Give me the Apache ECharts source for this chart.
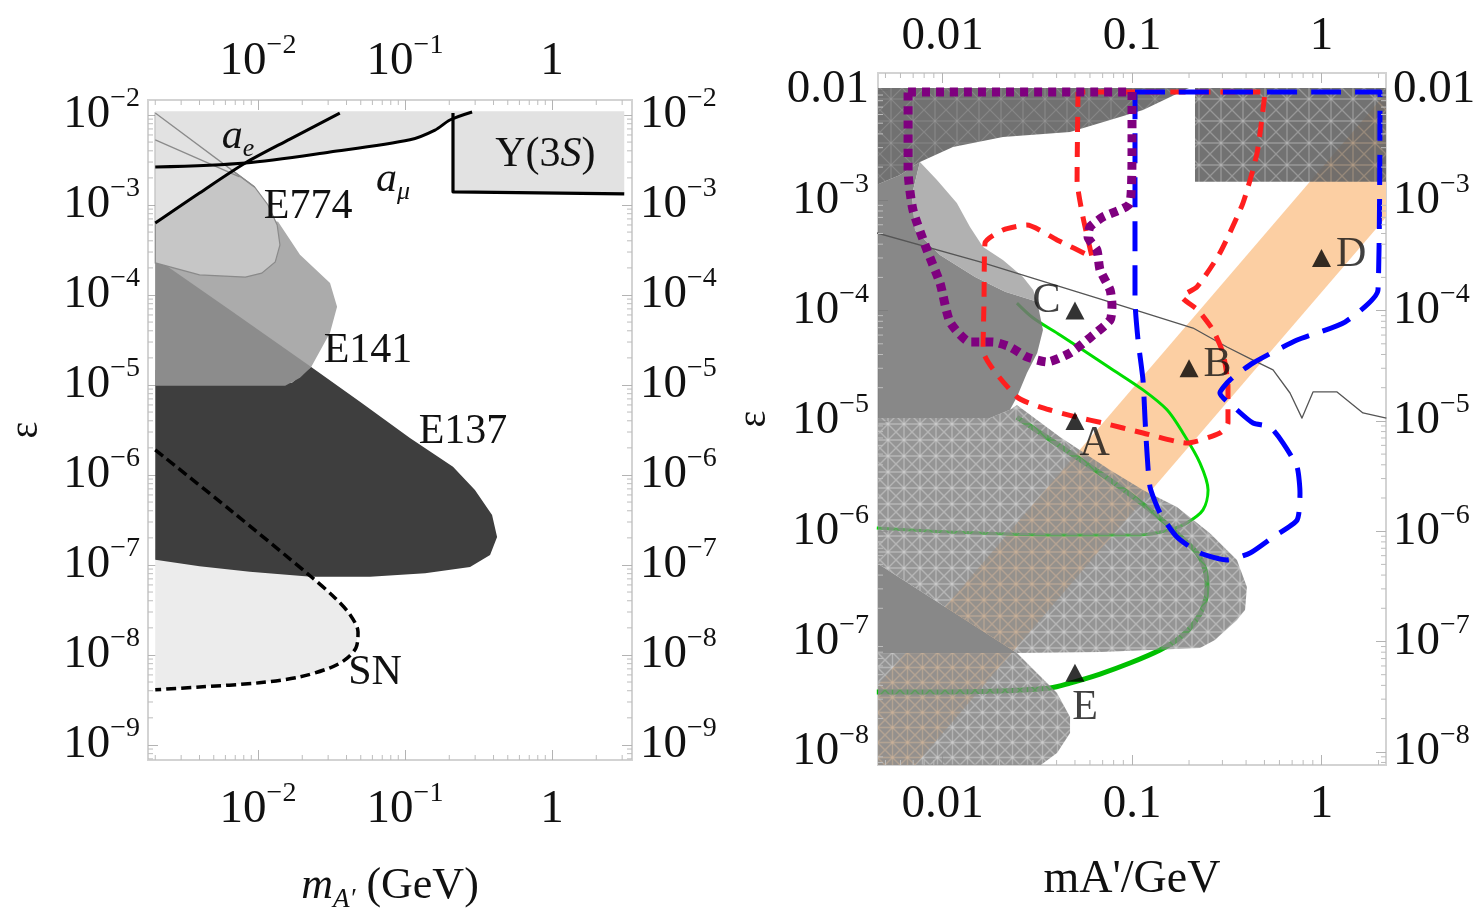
<!DOCTYPE html>
<html><head><meta charset="utf-8">
<script src="https://cdn.jsdelivr.net/npm/echarts@6/dist/echarts.min.js"></script>
<style>html,body{margin:0;padding:0;background:#fff;}#c{width:1482px;height:917px;}</style>
</head><body><div id="c"></div>
<script>
// ===================== DATA (mass in GeV, epsilon) =====================
const leftXRange = [0.001785, 3.5];
const leftYRange = [6.8e-10, 0.01468];
const rightXRange = [0.004566, 2.19];
const rightYRange = [7.59e-9, 0.01426];

// tick labels: [exponent, base, superscript]
const leftXTickLabels = [[-2,'10','−2'],[-1,'10','−1'],[0,'1','']];
const leftYTickLabels = [[-2,'10','−2'],[-3,'10','−3'],[-4,'10','−4'],[-5,'10','−5'],[-6,'10','−6'],[-7,'10','−7'],[-8,'10','−8'],[-9,'10','−9']];
const rightXTickLabels = [[-2,'0.01',''],[-1,'0.1',''],[0,'1','']];
const rightYTickLabels = [[-2,'0.01',''],[-3,'10','−3'],[-4,'10','−4'],[-5,'10','−5'],[-6,'10','−6'],[-7,'10','−7'],[-8,'10','−8']];
// minor tick mantissas and decades
const minorMantissas = [2,3,4,5,6,7,8,9];
const leftXDecades = [-3,-2,-1,0];
const leftYDecades = [-10,-9,-8,-7,-6,-5,-4,-3,-2];
const rightXDecades = [-3,-2,-1,0];
const rightYDecades = [-9,-8,-7,-6,-5,-4,-3,-2];

// ---- left panel regions ----
const leftSN_fill = [[0.002,1.5e-7],[0.023,7.4e-8],[0.0334,4.3e-8],[0.0423,2.8e-8],[0.0479,1.8e-8],[0.0464,1.2e-8],[0.039,8.8e-9],[0.0309,7.2e-9],[0.0193,5.7e-9],[0.0102,4.9e-9],[0.004,4.4e-9],[0.002,4.1e-9]];
const leftE137 = [[0.002,1.47e-5],[0.0193,1.67e-5],[0.023,1.58e-5],[0.0494,6.5e-6],[0.108,2.58e-6],[0.212,1.23e-6],[0.299,6.8e-7],[0.391,3.6e-7],[0.423,2.05e-7],[0.379,1.29e-7],[0.277,9.5e-8],[0.137,8.1e-8],[0.0578,7.4e-8],[0.023,7.4e-8],[0.0088,8.4e-8],[0.004,9.7e-8],[0.002,1.14e-7]];
const leftE141 = [[0.002,1.14e-3],[0.0137,6.5e-4],[0.0193,2.8e-4],[0.0309,1.36e-4],[0.0345,7.4e-5],[0.0309,3.8e-5],[0.023,1.58e-5],[0.017,1.05e-5],[0.002,1e-5]];
const leftMid = [[0.002,2.58e-4],[0.00645,6.8e-5],[0.023,1.58e-5],[0.0193,1.2e-5],[0.0153,9.8e-6],[0.002,9.8e-6]];
const leftE774 = [[0.002,0.0105],[0.0095,1.58e-3],[0.0117,1e-3],[0.0135,6e-4],[0.0141,3.6e-4],[0.0131,2.33e-4],[0.0106,1.75e-4],[0.0082,1.58e-4],[0.004,1.67e-4],[0.002,2.27e-4]];
const leftBand = [[0.002,0.011],[0.212,0.011],[0.212,9.3e-3],[0.2,8.8e-3],[0.16,6.8e-3],[0.108,5.3e-3],[0.0309,3.88e-3],[0.0082,2.93e-3],[0.004,1.36e-3],[0.002,6.3e-4]];
const leftY3S = [[0.212,0.011],[3.1,0.011],[3.1,1.33e-3],[0.212,1.4e-3]];
const leftThin1 = [[0.002,0.0105],[0.0095,1.58e-3]];
const leftThin2 = [[0.002,5.3e-3],[0.0075,2.05e-3]];
const leftAmu = [[0.002,2.64e-3],[0.0082,2.93e-3],[0.0309,3.88e-3],[0.108,5.3e-3],[0.16,6.8e-3],[0.202,8.8e-3],[0.286,0.0108]];
const leftAe = [[0.002,6.3e-4],[0.004,1.36e-3],[0.0082,2.93e-3],[0.0165,5.4e-3],[0.036,0.0105]];
const leftY3SLine = [[0.212,0.0105],[0.212,1.4e-3],[3.1,1.33e-3]];
const leftSNLine = [[0.002,1.9e-6],[0.00645,4.1e-7],[0.023,7.4e-8],[0.0334,4.3e-8],[0.0423,2.8e-8],[0.0479,1.8e-8],[0.0464,1.2e-8],[0.039,8.8e-9],[0.0309,7.2e-9],[0.0193,5.7e-9],[0.0102,4.9e-9],[0.004,4.4e-9],[0.002,4.1e-9]];
const leftLabels = [
  ['{it|a}{sub|e}', 7.3e-3, 5.7e-3],
  ['{it|a}{sub|μ}', 0.083, 1.9e-3],
  ['E774', 0.0219, 9.5e-4],
  ['E141', 0.056, 2.4e-5],
  ['E137', 0.248, 3.0e-6],
  ['SN', 0.0625, 6.3e-9],
  ['Υ(3{it|S})', 0.9, 3.6e-3]
];

// ---- right panel regions ----
const rightBand = [[3,0.0176],[0.004,3.1e-8],[0.004,2.35e-9],[3,1.32e-3]];
const rightGreenUp = [[0.0247,1.17e-4],[0.0301,8.57e-5],[0.0417,6.01e-5],[0.0551,4.4e-5],[0.0766,3.02e-5],[0.1143,1.91e-5],[0.153,1.26e-5],[0.1858,7.77e-6],[0.2285,4.15e-6],[0.252,2.36e-6],[0.237,1.56e-6],[0.195,1.19e-6],[0.159,1.03e-6],[0.11,9.25e-7],[0.0369,9.25e-7],[0.01096,9.84e-7],[0.0045,1.07e-6]];
const rightGreenLow = [[0.0247,1.08e-5],[0.0417,5.91e-6],[0.0766,2.91e-6],[0.1245,1.56e-6],[0.179,9.05e-7],[0.2203,6.34e-7],[0.243,4.45e-7],[0.249,3.12e-7],[0.24,2.14e-7],[0.215,1.5e-7],[0.179,1.08e-7],[0.1406,8.38e-8],[0.0976,6.38e-8],[0.0678,5.07e-8],[0.0471,4.2e-8],[0.0369,3.79e-8],[0.0201,3.56e-8],[0.0097,3.48e-8],[0.0045,3.48e-8]];
const rightE137 = [[0.0045,1.06e-5],[0.0178,1.06e-5],[0.0227,1.26e-5],[0.0247,1.39e-5],[0.0417,7.14e-6],[0.0766,3.59e-6],[0.1143,2.36e-6],[0.1727,1.66e-6],[0.258,9.6e-7],[0.358,5.48e-7],[0.404,3.12e-7],[0.395,1.93e-7],[0.358,1.57e-7],[0.274,1.03e-7],[0.2285,8.74e-8],[0.0678,8.04e-8],[0.0247,7.87e-8],[0.0045,5.15e-7]];
const rightSNTop = [[0.0045,5.15e-7],[0.0247,7.87e-8],[0.0045,7.87e-8]];
const rightSNLow = [[0.0045,7.87e-8],[0.0247,7.87e-8],[0.0402,3.41e-8],[0.0471,2.07e-8],[0.0471,1.48e-8],[0.0402,9.75e-9],[0.0327,7.5e-9],[0.0045,7.5e-9]];
const rightE141 = [[0.0045,1.38e-3],[0.00597,1.7e-3],[0.0076,2.22e-3],[0.0069,1.12e-3],[0.00716,5.38e-4],[0.0097,3.19e-4],[0.01486,2.02e-4],[0.0214,1.48e-4],[0.0316,1.2e-4],[0.0339,6.67e-5],[0.0316,4.13e-5],[0.0279,2.72e-5],[0.0247,1.65e-5],[0.0227,1.26e-5],[0.0178,1.06e-5],[0.0045,1.06e-5]];
const rightE774 = [[0.0076,2.22e-3],[0.00935,1.53e-3],[0.0119,9.45e-4],[0.01397,5.73e-4],[0.01637,3.77e-4],[0.02084,2.88e-4],[0.0266,2.02e-4],[0.0301,1.54e-4],[0.0316,1.2e-4],[0.0214,1.48e-4],[0.01486,2.02e-4],[0.0097,3.19e-4],[0.00716,5.38e-4],[0.0069,1.12e-3]];
const rightTop = [[0.0045,0.0104],[0.2,0.0104],[0.1143,6.6e-3],[0.0766,5.35e-3],[0.0471,4.16e-3],[0.02084,3.75e-3],[0.01135,3.04e-3],[0.0076,2.22e-3],[0.00597,1.7e-3],[0.0045,1.38e-3]];
const rightBaBar = [[0.215,0.0104],[2.3,0.0104],[2.3,1.47e-3],[0.215,1.47e-3]];
const rightThin = [[0.0045,5.06e-4],[0.01578,2.76e-4],[0.0703,1.25e-4],[0.21,6.95e-5],[0.317,4.68e-5],[0.435,3.56e-5],[0.555,2.9e-5],[0.682,1.79e-5],[0.789,1.06e-5],[0.902,1.83e-5],[1.208,1.83e-5],[1.655,1.18e-5],[2.2,1.06e-5]];
const rightPurple = [[0.00658,9.6e-3],[0.1,9.6e-3],[0.1,2.86e-3],[0.0976,9.45e-4],[0.0703,7.06e-4],[0.06,5.73e-4],[0.0586,4.65e-4],[0.0653,3.54e-4],[0.0678,2.34e-4],[0.0766,1.54e-4],[0.0784,1.12e-4],[0.0766,8.2e-5],[0.0579,5.41e-5],[0.0471,4.13e-5],[0.0356,3.42e-5],[0.0279,3.8e-5],[0.0227,4.68e-5],[0.01845,5.19e-5],[0.01397,5.19e-5],[0.01096,7.88e-5],[0.0097,1.78e-4],[0.00828,3.54e-4],[0.00698,8.2e-4],[0.00658,1.88e-3],[0.00658,9.6e-3]];
const rightRed = [[0.0519,9.6e-3],[0.0513,1.53e-3],[0.0551,7.06e-4],[0.0615,3.06e-4],[0.0402,4.37e-4],[0.0279,5.97e-4],[0.02084,5.38e-4],[0.01676,4.1e-4],[0.01656,1.25e-4],[0.01637,4.4e-5],[0.0247,1.65e-5],[0.0339,1.31e-5],[0.0513,1.08e-5],[0.0703,9.57e-6],[0.1143,7.77e-6],[0.195,6.3e-6],[0.291,7.77e-6],[0.321,9.57e-6],[0.321,2.03e-5],[0.302,4.13e-5],[0.2675,6.67e-5],[0.2229,1.01e-4],[0.1836,1.33e-4],[0.2203,1.64e-4],[0.291,3.33e-4],[0.385,9.45e-4],[0.457,2.68e-3],[0.504,9.6e-3],[0.0519,9.6e-3]];
const rightBlue = [[0.1037,9.6e-3],[2.035,9.6e-3],[1.987,1.54e-4],[1.33,7.88e-5],[0.743,5.41e-5],[0.435,3.35e-5],[0.329,2.35e-5],[0.291,1.79e-5],[0.358,1.26e-5],[0.435,9.57e-6],[0.535,8.8e-6],[0.627,6.3e-6],[0.743,3.82e-6],[0.77,2.22e-6],[0.743,1.26e-6],[0.555,8.86e-7],[0.42,6.34e-7],[0.317,5.48e-7],[0.2285,6.34e-7],[0.1727,8.86e-7],[0.1406,1.46e-6],[0.1245,2.52e-6],[0.12,5.12e-6],[0.1172,1.02e-5],[0.1143,2.35e-5],[0.1076,5.41e-5],[0.1037,1.25e-4],[0.1037,9.6e-3]];
const rightPoints = [['A',0.05,1e-5],['B',0.2,3e-5],['C',0.05,1e-4],['D',1,3e-4],['E',0.05,5.2e-8]];

// ===================== CHART =====================
const FONT = "'Liberation Serif', 'DejaVu Serif', serif";
const INK = '#111';
const toMap = arr => { const m = {}; arr.forEach(a => { m[a[0]] = [a[1], a[2]]; }); return m; };
const fmt = (v, map) => {
  const lg = Math.log10(v), e = Math.round(lg);
  if (Math.abs(lg - e) > 1e-6) return '';
  const l = map[e]; if (!l) return '';
  return l[0] + '{s|' + (l[1] || '\u200b') + '}';
};
function logAxis(gridIndex, position, range, labels, margin, extra) {
  const map = toMap(labels);
  return Object.assign({
    type: 'log', logBase: 10, gridIndex, position, min: range[0], max: range[1],
    axisLine: { show: true, onZero: false, lineStyle: { color: '#d3d3d3', width: 2 } },
    axisTick: { show: true, inside: true, length: 10, lineStyle: { color: '#b3b3b3', width: 1 } },
    splitLine: { show: false },
    axisLabel: {
      show: true, showMinLabel: false, showMaxLabel: false, margin,
      fontFamily: FONT, fontSize: 47, color: INK,
      formatter: v => fmt(v, map),
      rich: { s: { fontFamily: FONT, fontSize: 28, color: INK, padding: [0, 0, 32, 0] } }
    }
  }, extra || {});
}
// textured fill: opaque base with partly see-through lattice lines
function makePattern(base, holeAlpha, size, lw) {
  const c = document.createElement('canvas'); c.width = size; c.height = size;
  const g = c.getContext('2d');
  g.fillStyle = base; g.fillRect(0, 0, size, size);
  g.globalCompositeOperation = 'destination-out';
  g.strokeStyle = 'rgba(0,0,0,' + holeAlpha + ')'; g.lineWidth = lw;
  g.beginPath();
  g.moveTo(0, 0); g.lineTo(size, size); g.moveTo(size, 0); g.lineTo(0, size);
  g.stroke();
  g.beginPath();
  g.moveTo(0, size / 2); g.lineTo(size, size / 2); g.moveTo(size / 2, 0); g.lineTo(size / 2, size);
  g.stroke();
  return { image: c, repeat: 'repeat' };
}
let zc = 1;
function poly(xi, yi, pts, fill, extra) {
  return { type: 'custom', xAxisIndex: xi, yAxisIndex: yi, silent: true, clip: true, z: zc++,
    data: [pts[0]],
    renderItem: (params, api) => ({ type: 'polygon', shape: { points: pts.map(p => api.coord(p)) },
      style: Object.assign({ fill: fill }, extra || {}) }) };
}
function line(xi, yi, pts, color, width, type, extra) {
  return Object.assign({ type: 'line', xAxisIndex: xi, yAxisIndex: yi, data: pts, showSymbol: false, symbol: 'none',
    silent: true, clip: true, smooth: false, z: zc++,
    lineStyle: { color, width, type, cap: 'butt', join: 'round' } }, extra || {});
}
const LABEL_RICH = {
  it: { fontFamily: FONT, fontStyle: 'italic', fontSize: 42, fill: INK },
  sub: { fontFamily: FONT, fontStyle: 'italic', fontSize: 26, fill: INK, padding: [24, 0, 0, 0] }
};
function texts(xi, yi, items, size) {
  return { type: 'custom', xAxisIndex: xi, yAxisIndex: yi, silent: true, clip: false, z: zc++,
    data: items.map(d => [d[1], d[2]]),
    renderItem: (params, api) => {
      const p = api.coord([api.value(0), api.value(1)]);
      return { type: 'text', x: p[0], y: p[1], style: { text: items[params.dataIndex][0], fill: INK,
        fontFamily: FONT, fontSize: size, align: 'center', verticalAlign: 'middle', rich: LABEL_RICH } };
    } };
}
function tickValues(decades) {
  const out = [];
  decades.forEach(d => minorMantissas.forEach(m => out.push(m * Math.pow(10, d))));
  return out;
}
function minorTicks(xi, yi, vals, dir, ref, len) {
  return { type: 'custom', xAxisIndex: xi, yAxisIndex: yi, silent: true, clip: true, z: zc++,
    data: vals.map(v => dir === 'x' ? [v, ref] : [ref, v]),
    renderItem: (params, api) => {
      const p = api.coord([api.value(0), api.value(1)]);
      const cs = params.coordSys;
      const st = { stroke: '#bdbdbd', lineWidth: 1 };
      if (dir === 'x') {
        if (p[0] < cs.x + 1 || p[0] > cs.x + cs.width - 1) return null;
        return { type: 'group', children: [
          { type: 'line', shape: { x1: p[0], y1: cs.y + cs.height, x2: p[0], y2: cs.y + cs.height - len }, style: st },
          { type: 'line', shape: { x1: p[0], y1: cs.y, x2: p[0], y2: cs.y + len }, style: st } ] };
      }
      if (p[1] < cs.y + 1 || p[1] > cs.y + cs.height - 1) return null;
      return { type: 'group', children: [
        { type: 'line', shape: { x1: cs.x, y1: p[1], x2: cs.x + len, y2: p[1] }, style: st },
        { type: 'line', shape: { x1: cs.x + cs.width, y1: p[1], x2: cs.x + cs.width - len, y2: p[1] }, style: st } ] };
    } };
}
const patE137 = makePattern('#8a8a8a', 0.3, 16, 1.4);
const patSN = makePattern('#8b8b8b', 0.3, 15, 1.4);
const patBaBar = makePattern('#676767', 0.26, 22, 1.3);
const patTop = makePattern('#6a6a6a', 0.14, 22, 1.2);

const series = [
  // ---------- left panel ----------
  poly(0, 0, leftSN_fill, '#ececec'),
  poly(0, 0, leftE137, '#3e3e3e'),
  poly(0, 0, leftE141, '#ababab'),
  poly(0, 0, leftMid, '#8c8c8c'),
  poly(0, 0, leftE774, '#c6c6c6', { stroke: '#8a8a8a', lineWidth: 1.2 }),
  poly(0, 0, leftBand, '#e2e2e2'),
  poly(0, 0, leftY3S, '#e2e2e2'),
  line(0, 0, leftThin1, '#8a8a8a', 1.3, 'solid'),
  line(0, 0, leftThin2, '#8a8a8a', 1.3, 'solid'),
  line(0, 0, leftAe, '#000', 3, 'solid', { smooth: 0.3 }),
  line(0, 0, leftAmu, '#000', 3, 'solid', { smooth: 0.3 }),
  line(0, 0, leftY3SLine, '#000', 3.2, 'solid'),
  line(0, 0, leftSNLine, '#000', 3.5, [10, 5], { smooth: 0.3 }),
  texts(0, 0, leftLabels, 42),
  minorTicks(0, 0, tickValues(leftXDecades), 'x', 1e-5, 5),
  minorTicks(0, 0, tickValues(leftYDecades), 'y', 0.01, 5),
  // ---------- right panel ----------
  poly(2, 2, rightBand, '#fccfa3'),
  line(2, 2, rightGreenUp, '#00dd00', 3, 'solid', { smooth: 0.3 }),
  line(2, 2, rightGreenLow, '#00c000', 5, 'solid', { smooth: 0.3 }),
  poly(2, 2, rightE137, patE137, { opacity: 0.9 }),
  poly(2, 2, rightSNTop, '#888888'),
  poly(2, 2, rightSNLow, patSN, { opacity: 0.92 }),
  poly(2, 2, rightE141, '#757575', { opacity: 0.86 }),
  poly(2, 2, rightE774, '#a4a4a4', { opacity: 0.86 }),
  poly(2, 2, rightTop, patTop, { opacity: 0.95 }),
  poly(2, 2, rightBaBar, patBaBar, { opacity: 0.92 }),
  line(2, 2, rightThin, '#555', 1.3, 'solid'),
  line(2, 2, rightRed, '#ff1f1f', 5, [15, 10], { smooth: 0.2 }),
  line(2, 2, rightBlue, '#0000ff', 5, [30, 14], { smooth: 0.2 }),
  line(2, 2, rightPurple, '#7f007f', 9, [8, 6], { smooth: 0.2 }),
  minorTicks(2, 2, tickValues(rightXDecades), 'x', 1e-5, 5),
  minorTicks(2, 2, tickValues(rightYDecades), 'y', 0.01, 5),
  { type: 'scatter', xAxisIndex: 2, yAxisIndex: 2, silent: true, z: zc++, symbol: 'triangle', symbolSize: [19, 18],
    itemStyle: { color: '#000' },
    label: { show: true, formatter: '{b}', fontFamily: FONT, fontSize: 42, color: INK },
    data: rightPoints.map(p => {
      const place = { A: ['right', [-10, 23]], B: ['right', [0, -3]], C: ['left', [0, -10]], D: ['right', [0, -3]], E: ['bottom', [10, 0]] }[p[0]];
      return { name: p[0], value: [p[1], p[2]], label: { position: place[0], offset: place[1] } };
    }) }
];

const chart = echarts.init(document.getElementById('c'), null, { renderer: 'canvas' });
chart.setOption({
  animation: false,
  backgroundColor: '#fff',
  textStyle: { fontFamily: FONT },
  grid: [
    { left: 148, top: 100, width: 484, height: 660, show: true, borderColor: '#d3d3d3', borderWidth: 2, outerBoundsMode: 'none' },
    { left: 878, top: 73, width: 508, height: 692, show: true, borderColor: '#d3d3d3', borderWidth: 2, outerBoundsMode: 'none' }
  ],
  xAxis: [
    logAxis(0, 'bottom', leftXRange, leftXTickLabels, 20, {
      name: '{i|m}{sub|A′} (GeV)', nameLocation: 'middle', nameGap: 100,
      nameTextStyle: { fontFamily: FONT, fontSize: 44, color: INK, rich: {
        i: { fontFamily: FONT, fontStyle: 'italic', fontSize: 44, color: INK },
        sub: { fontFamily: FONT, fontStyle: 'italic', fontSize: 27, color: INK, padding: [26, 0, 0, 0] } } } }),
    logAxis(0, 'top', leftXRange, leftXTickLabels, 8),
    logAxis(1, 'bottom', rightXRange, rightXTickLabels, 10, {
      name: "mA'/GeV", nameLocation: 'middle', nameGap: 92,
      nameTextStyle: { fontFamily: FONT, fontSize: 46, color: INK } }),
    logAxis(1, 'top', rightXRange, rightXTickLabels, 6)
  ],
  yAxis: [
    logAxis(0, 'left', leftYRange, leftYTickLabels, 8, {
      name: 'ε', nameLocation: 'middle', nameGap: 102, nameRotate: 90,
      nameTextStyle: { fontFamily: FONT, fontSize: 40, color: INK } }),
    logAxis(0, 'right', leftYRange, leftYTickLabels, 8),
    logAxis(1, 'left', rightYRange, rightYTickLabels, 9, {
      name: 'ε', nameLocation: 'middle', nameGap: 104, nameRotate: 90,
      nameTextStyle: { fontFamily: FONT, fontSize: 40, color: INK } }),
    logAxis(1, 'right', rightYRange, rightYTickLabels, 7)
  ],
  series: series
});
</script>
</body></html>
